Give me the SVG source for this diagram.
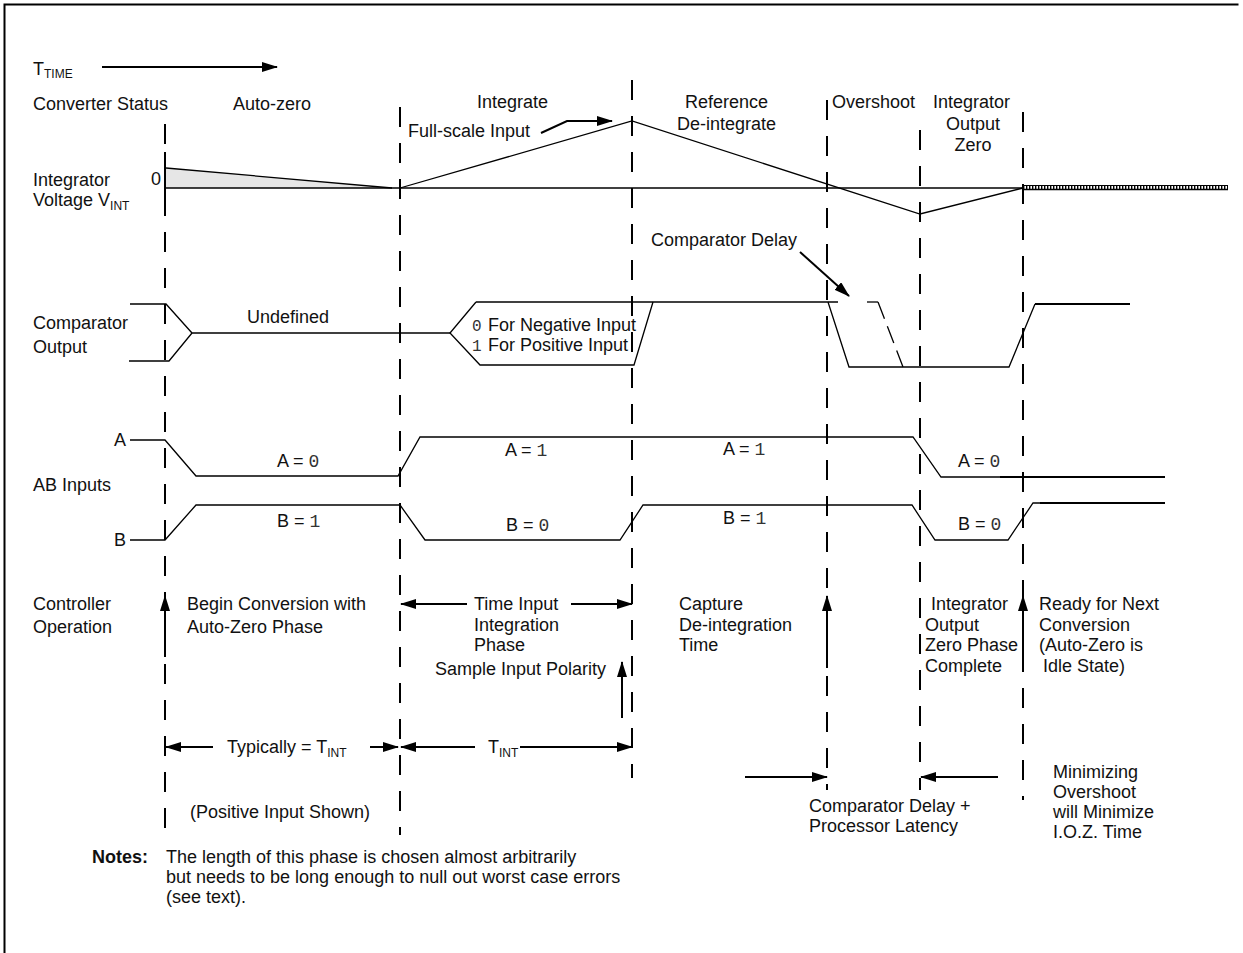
<svg xmlns="http://www.w3.org/2000/svg" width="1243" height="953" viewBox="0 0 1243 953">
<style>
text{font-family:"Liberation Sans",Arial,Helvetica,sans-serif;font-size:18px;fill:#111}
.m{font-family:"Liberation Mono","Courier New",monospace;font-size:18px;fill:#333}
.sub{font-size:12px}
.b{font-weight:bold}
.sig{fill:none;stroke:#000;stroke-width:1.3}
.thk{fill:none;stroke:#000;stroke-width:2.2}
.dash{fill:none;stroke:#000;stroke-width:2;stroke-dasharray:20 16}
.arr{fill:none;stroke:#000;stroke-width:2;marker-end:url(#ah)}
</style>
<defs>
<marker id="ah" markerUnits="userSpaceOnUse" markerWidth="16" markerHeight="10" refX="15" refY="5" orient="auto"><path d="M0,0 L16,5 L0,10 z" fill="#000"/></marker>
<pattern id="hatch" patternUnits="userSpaceOnUse" width="3" height="6"><rect x="0" y="0" width="1.4" height="6" fill="#000"/></pattern>
</defs>
<rect x="0" y="0" width="1243" height="953" fill="#fff"/>
<g id="frame"><path d="M4.5,953 V4.5 H1238.5" fill="none" stroke="#000" stroke-width="2"/></g>

<g id="phase-markers">
<line class="dash" x1="165" y1="124" x2="165" y2="835"/>
<line x1="165" y1="152" x2="165" y2="210" stroke="#000" stroke-width="2"/>
<line class="dash" x1="400" y1="107" x2="400" y2="835"/>
<line class="dash" x1="632" y1="80" x2="632" y2="778"/>
<line class="dash" x1="827" y1="100" x2="827" y2="790"/>
<line class="dash" x1="920" y1="130" x2="920" y2="790"/>
<line class="dash" x1="1023" y1="112" x2="1023" y2="800"/>
</g>

<g id="header">
<text x="33" y="75">T<tspan class="sub" dy="3">TIME</tspan></text>
<line class="arr" x1="102" y1="67" x2="277" y2="67"/>
<text x="33" y="110">Converter Status</text>
<text x="233" y="110">Auto-zero</text>
<text x="477" y="108">Integrate</text>
<text x="685" y="108">Reference</text>
<text x="677" y="130">De-integrate</text>
<text x="832" y="108">Overshoot</text>
<text x="933" y="108">Integrator</text>
<text x="973" y="130" text-anchor="middle">Output</text>
<text x="973" y="151" text-anchor="middle">Zero</text>
</g>

<g id="integrator">
<text x="33" y="186">Integrator</text>
<text x="33" y="206">Voltage V<tspan class="sub" dy="4">INT</tspan></text>
<text x="151" y="185">0</text>
<polygon points="166,168 392,188 166,188" fill="#e6e6e6" stroke="none"/>
<polyline class="sig" points="166,168 392,188"/>
<line class="sig" x1="165" y1="188" x2="1024" y2="188"/>
<polyline class="sig" points="400,188 632,121 920,214 1023,188"/>
<rect x="1023" y="185" width="205" height="5" fill="url(#hatch)"/>
<line x1="1023" y1="185.5" x2="1228" y2="185.5" stroke="#000" stroke-width="1"/>
<line x1="1023" y1="189.5" x2="1228" y2="189.5" stroke="#000" stroke-width="1.5"/>
<text x="408" y="137">Full-scale Input</text>
<polyline class="arr" points="541,133 567,121 612,121" stroke-width="1.3"/>
</g>

<g id="comparator">
<text x="33" y="329">Comparator</text>
<text x="33" y="353">Output</text>
<polyline class="sig" points="130,304 166,304 192,333 450,333"/>
<polyline class="sig" points="129,361 169,361 192,333"/>
<text x="247" y="323">Undefined</text>
<polyline class="sig" points="476,302 450,333 480,365 634,365 653,302"/>
<polyline class="sig" points="476,302 838,302"/>
<polyline class="sig" points="828,302 849,367 1009,367 1035,304"/>
<line class="thk" x1="1035" y1="304" x2="1130" y2="304"/>
<line class="sig" x1="867" y1="302" x2="878" y2="302"/>
<line class="sig" x1="878" y1="302" x2="903" y2="367" stroke-dasharray="18 8"/>
<text x="472" y="331"><tspan class="m" style="font-size:16px">0</tspan><tspan x="488">For Negative Input</tspan></text>
<text x="472" y="351"><tspan class="m" style="font-size:16px">1</tspan><tspan x="488">For Positive Input</tspan></text>
<text x="651" y="246">Comparator Delay</text>
<line class="arr" x1="800" y1="252" x2="849" y2="296" stroke-width="1.3"/>
</g>

<g id="ab-inputs">
<text x="114" y="446">A</text>
<text x="114" y="546">B</text>
<text x="33" y="491">AB Inputs</text>
<polyline class="sig" points="130,440 165,440 196,476 398,476 420,437 913,437 941,477 1000,477"/>
<line class="thk" x1="1000" y1="477" x2="1165" y2="477"/>
<polyline class="sig" points="130,540 165,540 196,505 400,505 425,540 620,540 643,505 912,505 935,540 1008,540 1033,503 1040,503"/>
<line class="thk" x1="1040" y1="503" x2="1165" y2="503"/>
<text x="277" y="467">A = <tspan class="m">0</tspan></text>
<text x="277" y="527">B = <tspan class="m">1</tspan></text>
<text x="505" y="456">A = <tspan class="m">1</tspan></text>
<text x="506" y="531">B = <tspan class="m">0</tspan></text>
<text x="723" y="455">A = <tspan class="m">1</tspan></text>
<text x="723" y="524">B = <tspan class="m">1</tspan></text>
<text x="958" y="467">A = <tspan class="m">0</tspan></text>
<text x="958" y="530">B = <tspan class="m">0</tspan></text>
</g>

<g id="controller">
<text x="33" y="610">Controller</text>
<text x="33" y="633">Operation</text>
<line class="arr" x1="165" y1="657" x2="165" y2="596"/>
<text x="187" y="610">Begin Conversion with</text>
<text x="187" y="633">Auto-Zero Phase</text>
<line class="arr" x1="467" y1="604" x2="401" y2="604"/>
<line class="arr" x1="571" y1="604" x2="632" y2="604"/>
<text x="474" y="610">Time Input</text>
<text x="474" y="631">Integration</text>
<text x="474" y="651">Phase</text>
<text x="435" y="675">Sample Input Polarity</text>
<line class="arr" x1="622" y1="718" x2="622" y2="662"/>
<text x="679" y="610">Capture</text>
<text x="679" y="631">De-integration</text>
<text x="679" y="651">Time</text>
<line class="arr" x1="827" y1="668" x2="827" y2="596"/>
<text x="931" y="610">Integrator</text>
<text x="925" y="631">Output</text>
<text x="925" y="651">Zero Phase</text>
<text x="925" y="672">Complete</text>
<line class="arr" x1="1023" y1="655" x2="1023" y2="596"/>
<text x="1039" y="610">Ready for Next</text>
<text x="1039" y="631">Conversion</text>
<text x="1039" y="651">(Auto-Zero is</text>
<text x="1043" y="672">Idle State)</text>
</g>

<g id="timing">
<line class="arr" x1="213" y1="747" x2="166" y2="747"/>
<text x="227" y="753">Typically = T<tspan class="sub" dy="4">INT</tspan></text>
<line class="arr" x1="370" y1="747" x2="398" y2="747"/>
<line class="arr" x1="475" y1="747" x2="401" y2="747"/>
<text x="488" y="753">T<tspan class="sub" dy="4">INT</tspan></text>
<line class="arr" x1="520" y1="747" x2="632" y2="747"/>
<text x="190" y="818">(Positive Input Shown)</text>
<line class="arr" x1="745" y1="777" x2="827" y2="777"/>
<line class="arr" x1="998" y1="777" x2="921" y2="777"/>
<text x="809" y="812">Comparator Delay +</text>
<text x="809" y="832">Processor Latency</text>
<text x="1053" y="778">Minimizing</text>
<text x="1053" y="798">Overshoot</text>
<text x="1053" y="818">will Minimize</text>
<text x="1053" y="838">I.O.Z. Time</text>
</g>

<g id="notes">
<text x="92" y="863" class="b">Notes:</text>
<text x="166" y="863">The length of this phase is chosen almost arbitrarily</text>
<text x="166" y="883">but needs to be long enough to null out worst case errors</text>
<text x="166" y="903">(see text).</text>
</g>
</svg>
